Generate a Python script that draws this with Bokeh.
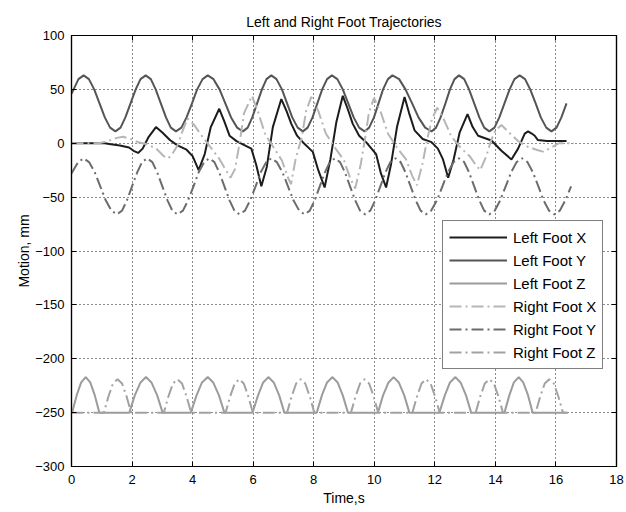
from bokeh.plotting import figure
from bokeh.models import Range1d, LinearAxis, FixedTicker, Legend, LegendItem
from bokeh.embed import file_html
from bokeh.resources import INLINE

# ---------------- data ----------------
title_text = "Left and Right Foot Trajectories"
x_label = "Time,s"
y_label = "Motion, mm"
x_ticks = [0, 2, 4, 6, 8, 10, 12, 14, 16, 18]
y_ticks = [-300, -250, -200, -150, -100, -50, 0, 50, 100]
labels = ["Left Foot X", "Left Foot Y", "Left Foot Z",
          "Right Foot X", "Right Foot Y", "Right Foot Z"]

lx_t = [0, 1.1, 1.3, 1.6, 1.9, 2.05, 2.2, 2.35, 2.55, 2.79,
        3.0, 3.25, 3.5, 3.8, 4.0, 4.2, 4.4, 4.6, 4.88, 5.05,
        5.22, 5.45, 5.66, 5.94, 6.1, 6.27, 6.45, 6.65, 6.93, 7.1,
        7.26, 7.45, 7.64, 7.97, 8.15, 8.36, 8.55, 8.75, 8.96, 9.12,
        9.29, 9.5, 9.73, 10.06, 10.22, 10.39, 10.55, 10.75, 11.0, 11.15,
        11.33, 11.6, 11.89, 12.1, 12.27, 12.44, 12.62, 12.82, 13.08, 13.25,
        13.43, 13.87, 14.2, 14.53, 14.75, 14.97, 15.08, 15.2, 15.3, 15.4,
        15.7, 16.07, 16.35]
lx_v = [0, 0, -1, -2, -4, -7, -9, -5, 6, 15,
        10, 3, -2, -6, -12, -25, -10, 15, 32, 20,
        7, 2, -1, -5, -20, -40, -22, 15, 41, 30,
        18, 7, 1, -8, -25, -41, -15, 20, 44, 32,
        18, 7, 1, -10, -28, -41, -20, 15, 43, 28,
        12, 4, 1, -5, -15, -32, -15, 10, 27, 15,
        7, 2.5, -7, -15, -5, 9, 11, 9, 7, 3,
        2, 2, 2]

ly_t = [0, 0.07, 0.23, 0.4,
        0.575, 0.75, 0.925, 1.1, 1.275, 1.45,
        1.62, 1.78, 1.95, 2.12, 2.28, 2.45,
        2.62, 2.78, 2.95, 3.12, 3.28, 3.45,
        3.63, 3.8, 3.98, 4.15, 4.33, 4.5,
        4.69, 4.89, 5.08, 5.27, 5.47, 5.66,
        5.82, 5.97, 6.13, 6.29, 6.44, 6.6,
        6.77, 6.95, 7.12, 7.29, 7.47, 7.64,
        7.8, 7.96, 8.12, 8.28, 8.44, 8.6,
        8.78, 8.96, 9.14, 9.32, 9.5, 9.68,
        9.83, 9.99, 10.14, 10.29, 10.45, 10.6,
        10.82, 11.03, 11.25, 11.46, 11.68, 11.89,
        12.04, 12.19, 12.35, 12.5, 12.65, 12.8,
        12.97, 13.13, 13.3, 13.47, 13.63, 13.8,
        13.97, 14.13, 14.3, 14.47, 14.63, 14.8,
        14.98, 15.15, 15.33, 15.5, 15.68, 15.85,
        16.02, 16.18, 16.35]
ly_v = [46, 50, 59.5, 63,
        59.5, 50, 37, 24, 14.5, 11,
        14.5, 24, 37, 50, 59.5, 63,
        59.5, 50, 37, 24, 14.5, 11,
        14.5, 24, 37, 50, 59.5, 63,
        59.5, 50, 37, 24, 14.5, 11,
        14.5, 24, 37, 50, 59.5, 63,
        59.5, 50, 37, 24, 14.5, 11,
        14.5, 24, 37, 50, 59.5, 63,
        59.5, 50, 37, 24, 14.5, 11,
        14.5, 24, 37, 50, 59.5, 63,
        59.5, 50, 37, 24, 14.5, 11,
        14.5, 24, 37, 50, 59.5, 63,
        59.5, 50, 37, 24, 14.5, 11,
        14.5, 24, 37, 50, 59.5, 63,
        59.5, 50, 37, 24, 14.5, 11,
        14.5, 24, 37]

lz_t = [0, 0.02, 0.17, 0.32, 0.47, 0.62, 0.77, 0.92,
        1.91, 2.09, 2.28, 2.46, 2.64, 2.83, 3.01,
        3.94, 4.13, 4.31, 4.5, 4.68, 4.87, 5.05,
        5.98, 6.16, 6.33, 6.5, 6.68, 6.86, 7.03,
        8.1, 8.27, 8.44, 8.62, 8.79, 8.96, 9.13,
        10.12, 10.29, 10.47, 10.64, 10.81, 10.99, 11.16,
        12.15, 12.33, 12.5, 12.68, 12.85, 13.03, 13.2,
        14.3, 14.46, 14.61, 14.77, 14.92, 15.08, 15.23,
        16.35]
lz_v = [-250, -250, -234, -222, -217, -222, -234, -250,
        -250, -234, -222, -217, -222, -234, -250,
        -250, -234, -222, -217, -222, -234, -250,
        -250, -234, -222, -217, -222, -234, -250,
        -250, -234, -222, -217, -222, -234, -250,
        -250, -234, -222, -217, -222, -234, -250,
        -250, -234, -222, -217, -222, -234, -250,
        -250, -234, -222, -217, -222, -234, -250,
        -250]

rx_t = [0, 0.9, 1.2, 1.5, 1.7, 1.95, 2.2, 2.5, 2.8, 3.05,
        3.2, 3.35, 3.5, 3.65, 3.83, 4.05, 4.3, 4.6, 4.87, 5.1,
        5.25, 5.4, 5.55, 5.7, 5.96, 6.15, 6.4, 6.7, 6.95, 7.15,
        7.25, 7.4, 7.6, 7.75, 7.92, 8.15, 8.4, 8.7, 9.0, 9.2,
        9.37, 9.55, 9.7, 9.82, 9.99, 10.2, 10.45, 10.75, 11.05, 11.25,
        11.41, 11.6, 11.75, 11.9, 12.08, 12.3, 12.55, 12.85, 13.15, 13.35,
        13.5, 13.7, 13.85, 14.0, 14.2, 14.45, 14.75, 15.05, 15.35, 15.6,
        15.85, 16.1, 16.35, 16.6]
rx_v = [0, 0, 2, 5, 6, 4, 1, -1, -5, -12,
        -14, -9, -2, 10, 23, 17, 7, -4, -14, -25,
        -32, -24, 0, 28, 44, 30, 8, -5, -16, -32,
        -38, -15, 5, 30, 43, 30, 9, -4, -16, -32,
        -42, -20, 5, 28, 42, 30, 9, -4, -15, -30,
        -39, -18, 4, 22, 33, 22, 6, -4, -12, -20,
        -25, -12, 2, 12, 17, 10, 2, -3, -6, -8,
        -4, 0, 0, 0]

ry_t = [0, 0.22, 0.4,
        0.58, 0.77, 0.95, 1.13, 1.32, 1.5,
        1.67, 1.83, 2.0, 2.17, 2.33, 2.5,
        2.67, 2.83, 3.0, 3.17, 3.33, 3.5,
        3.68, 3.85, 4.03, 4.2, 4.38, 4.55,
        4.72, 4.88, 5.05, 5.22, 5.38, 5.55,
        5.73, 5.9, 6.08, 6.25, 6.43, 6.6,
        6.78, 6.97, 7.15, 7.33, 7.52, 7.7,
        7.87, 8.03, 8.2, 8.37, 8.53, 8.7,
        8.87, 9.03, 9.2, 9.37, 9.53, 9.7,
        9.87, 10.03, 10.2, 10.37, 10.53, 10.7,
        10.87, 11.03, 11.2, 11.37, 11.53, 11.7,
        11.88, 12.07, 12.25, 12.43, 12.62, 12.8,
        12.97, 13.13, 13.3, 13.47, 13.63, 13.8,
        13.98, 14.16, 14.34, 14.52, 14.7, 14.88,
        15.06, 15.24, 15.42, 15.59, 15.77, 15.95,
        16.13, 16.31, 16.5]
ry_v = [-28, -17.5, -14,
        -17.5, -27, -40, -53, -62.5, -66,
        -62.5, -53, -40, -27, -17.5, -14,
        -17.5, -27, -40, -53, -62.5, -66,
        -62.5, -53, -40, -27, -17.5, -14,
        -17.5, -27, -40, -53, -62.5, -66,
        -62.5, -53, -40, -27, -17.5, -14,
        -17.5, -27, -40, -53, -62.5, -66,
        -62.5, -53, -40, -27, -17.5, -14,
        -17.5, -27, -40, -53, -62.5, -66,
        -62.5, -53, -40, -27, -17.5, -14,
        -17.5, -27, -40, -53, -62.5, -66,
        -62.5, -53, -40, -27, -17.5, -14,
        -17.5, -27, -40, -53, -62.5, -66,
        -62.5, -53, -40, -27, -17.5, -14,
        -17.5, -27, -40, -53, -62.5, -66,
        -62.5, -53, -40]

rz_t = [0,
        1.07, 1.22, 1.37, 1.52, 1.67, 1.82, 1.97,
        3.05, 3.2, 3.35, 3.5, 3.65, 3.8, 3.95,
        5.09, 5.24, 5.39, 5.54, 5.69, 5.84, 5.99,
        7.12, 7.27, 7.42, 7.57, 7.72, 7.87, 8.02,
        9.23, 9.38, 9.53, 9.68, 9.83, 9.98, 10.13,
        11.26, 11.41, 11.56, 11.71, 11.86, 12.01, 12.16,
        13.35, 13.5, 13.65, 13.8, 13.95, 14.1, 14.25,
        15.33, 15.48, 15.63, 15.78, 15.93, 16.08, 16.23,
        16.4]
rz_v = [-250,
        -250, -235, -223, -219, -223, -235, -250,
        -250, -235, -223, -219, -223, -235, -250,
        -250, -235, -223, -219, -223, -235, -250,
        -250, -235, -223, -219, -223, -235, -250,
        -250, -235, -223, -219, -223, -235, -250,
        -250, -235, -223, -219, -223, -235, -250,
        -250, -235, -223, -219, -223, -235, -250,
        -250, -235, -223, -219, -223, -235, -250,
        -250]

# ---------------- styling ----------------
FONT = "Liberation Sans"
series = [
    (lx_t, lx_v, "#1c1c1c", "solid"),
    (ly_t, ly_v, "#555555", "solid"),
    (lz_t, lz_v, "#9c9c9c", "solid"),
    (rx_t, rx_v, "#b6b6b6", "12 4 2 4"),
    (ry_t, ry_v, "#6c6c6c", "12 4 2 4"),
    (rz_t, rz_v, "#a2a2a2", "12 4 2 4"),
]

p = figure(width=624, height=510, x_range=Range1d(0, 18), y_range=Range1d(-300, 100),
           output_backend="svg", toolbar_location=None,
           min_border_left=71, min_border_right=8, min_border_top=35, min_border_bottom=44,
           title=title_text)
p.background_fill_color = "white"
p.border_fill_color = "white"
p.outline_line_color = "black"
p.outline_line_width = 1.2

p.title.align = "center"
p.title.text_font = FONT
p.title.text_font_size = "14px"
p.title.text_font_style = "normal"
p.title.text_color = "black"
p.title.standoff = 12

for ax, ticks, lab in ((p.xaxis[0], x_ticks, x_label), (p.yaxis[0], y_ticks, y_label)):
    ax.ticker = FixedTicker(ticks=ticks)
    ax.axis_label = lab
    ax.axis_label_text_font = FONT
    ax.axis_label_text_font_size = "14px"
    ax.axis_label_text_font_style = "normal"
    ax.axis_label_text_color = "black"
    ax.major_label_text_font = FONT
    ax.major_label_text_font_size = "13px"
    ax.major_label_text_color = "black"
    ax.major_tick_in = 5
    ax.major_tick_out = 0
    ax.minor_tick_line_color = None
    ax.axis_line_color = "black"
    ax.axis_line_width = 1.2
    ax.major_tick_line_color = "black"
p.xaxis.major_label_standoff = 8
p.xaxis.axis_label_standoff = 3
p.yaxis.major_label_standoff = 7
p.yaxis.axis_label_standoff = 0

for loc, ticks in (("right", y_ticks), ("above", x_ticks)):
    extra = LinearAxis(ticker=FixedTicker(ticks=ticks), major_tick_in=5, major_tick_out=0,
                       minor_tick_line_color=None, major_label_text_font_size="1px",
                       major_label_text_color=None,
                       major_label_standoff=0, axis_line_color="black", axis_line_width=1.2,
                       major_tick_line_color="black")
    p.add_layout(extra, loc)

p.xgrid.ticker = FixedTicker(ticks=x_ticks)
p.ygrid.ticker = FixedTicker(ticks=y_ticks)
for g in (p.xgrid, p.ygrid):
    g.grid_line_color = "black"
    g.grid_line_dash = "1 3"
    g.grid_line_width = 1
    g.grid_line_alpha = 0.9

items = []
for (t, v, col, dash), lab in zip(series, labels):
    r = p.line(t, v, line_color=col, line_width=2, line_dash=dash)
    items.append(LegendItem(label=lab, renderers=[r]))

legend = Legend(items=items, location=(371, 97))
legend.border_line_color = "black"
legend.border_line_width = 1.5
legend.background_fill_color = "white"
legend.background_fill_alpha = 1
legend.label_text_font = FONT
legend.label_text_font_size = "15px"
legend.label_text_color = "black"
legend.glyph_width = 58
legend.glyph_height = 20
legend.label_height = 20
legend.label_standoff = 6
legend.spacing = 3
legend.padding = 6
legend.margin = 0
p.add_layout(legend)

open("out.html", "w").write(file_html(p, INLINE))
